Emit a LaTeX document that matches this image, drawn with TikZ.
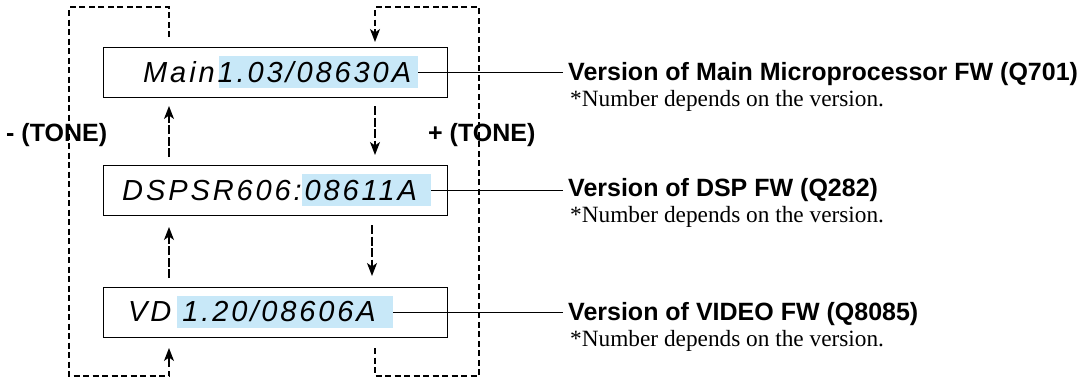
\documentclass[tikz,border=0pt]{standalone}
\usepackage{fontspec}
\setmainfont{Liberation Serif}
\setsansfont{Liberation Sans}
\newfontfamily\boxfont[LetterSpace=10]{Liberation Sans}
\usetikzlibrary{arrows.meta}
\definecolor{hlblue}{HTML}{C8E8F8}
\begin{document}
\begin{tikzpicture}[x=1pt,y=-1pt,
  vbox/.style={draw, line width=1pt, minimum width=344pt, minimum height=50pt, inner sep=0pt},
  hl/.style={fill=hlblue, inner sep=0pt},
  btxt/.style={font=\boxfont\itshape\fontsize{29}{29}\selectfont, inner sep=0pt},
  lab/.style={font=\sffamily\bfseries\fontsize{25}{25}\selectfont, inner sep=0pt},
  note/.style={font=\rmfamily\fontsize{23.3}{23.3}\selectfont, inner sep=0pt},
  tip/.style={-{Stealth[length=13pt,width=10pt,inset=3.5pt]}},
  dloop/.style={line width=1.2pt, dash pattern=on 6pt off 3.5pt},
  darr/.style={line width=1.2pt, dash pattern=on 9pt off 2.5pt, tip},
  lead/.style={line width=0.9pt}]
\useasboundingbox (0,0) rectangle (1087,378);
% boxes
\node[vbox] (b1) at (275,72) {};
\node[vbox] (b2) at (275,190.5) {};
\node[vbox] (b3) at (275,312) {};
% highlights
\node[hl, minimum width=199pt, minimum height=32pt] (h1) at (318.5,72) {};
\node[hl, minimum width=129pt, minimum height=32pt] (h2) at (366.5,190) {};
\node[hl, minimum width=216pt, minimum height=32pt] (h3) at (285,312) {};
% box texts
\node[btxt, anchor=base west] (t1) at (143,82) {Main1.03/08630A};
\node[btxt, anchor=base west] (t2) at (122,200) {DSPSR606:08611A};
\node[btxt, anchor=base west] (t3) at (128,321) {VD 1.20/08606A};
% side labels
\node[lab, anchor=base west] (minus) at (6,141) {- (TONE)};
\node[lab, anchor=base west] (plus) at (428,141) {+ (TONE)};
% right labels
\node[lab, anchor=base west] (l1) at (568,80) {Version of Main Microprocessor FW (Q701)};
\node[note, anchor=base west] (n1) at (570,106) {*Number depends on the version.};
\node[lab, anchor=base west] (l2) at (568,196) {Version of DSP FW (Q282)};
\node[note, anchor=base west] (n2) at (570,222) {*Number depends on the version.};
\node[lab, anchor=base west] (l3) at (568,320) {Version of VIDEO FW (Q8085)};
\node[note, anchor=base west] (n3) at (570,346) {*Number depends on the version.};
% leader lines
\draw[lead] (h1.east) -- ([xshift=-5pt]h1.east -| l1.west);
\draw[lead] (h2.east) -- ([xshift=-5pt]h2.east -| l2.west);
\draw[lead] (h3.east) -- ([xshift=-5pt]h3.east -| l3.west);
% loop coordinates
\coordinate (ltop) at (169,37);
\coordinate (lbot) at (169,348);
\coordinate (rbot) at (375,348);
\coordinate (rtop) at (375,42);
% outer loops
\draw[dloop] (ltop) -- (169,7) -- (69,7) -- (69,376) -- (169,376) -- (169,362);
\draw[dloop] (rbot) -- (375,376) -- (479,376) -- (479,7) -- (375,7) -- (375,30);
\draw[line width=1.2pt, tip] (375,30) -- (rtop);
\draw[line width=1.2pt, tip] (169,362) -- (lbot);
% inner arrows
\draw[darr] (375,106) -- (375,155);
\draw[darr] (169,157) -- (169,106);
\draw[darr] (372,225) -- (372,276);
\draw[darr] (169,278) -- (169,227);
\end{tikzpicture}
\end{document}
